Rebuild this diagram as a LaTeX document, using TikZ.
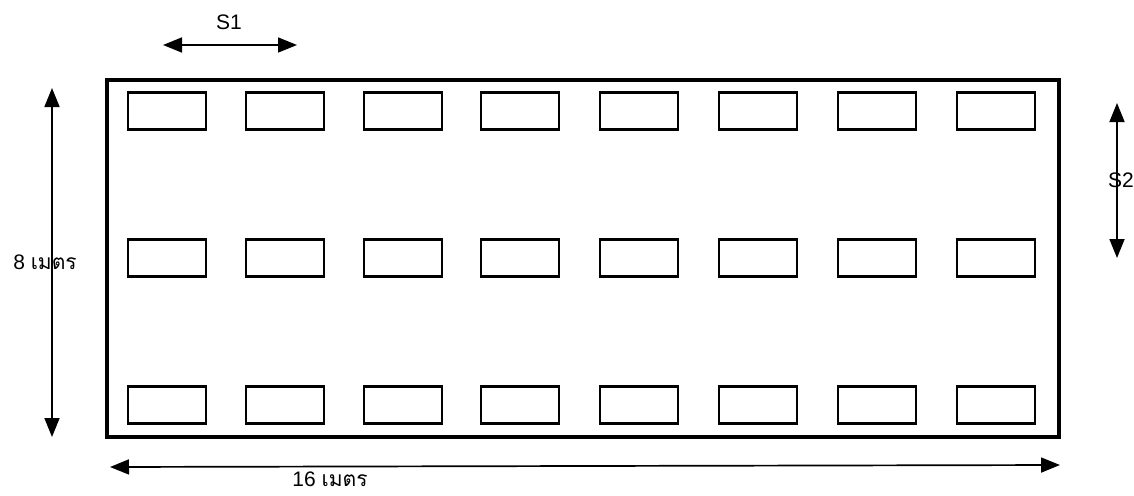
\documentclass[tikz,border=0pt]{standalone}
\usepackage{fontspec}
\setmainfont{Liberation Sans}
\newfontfamily\thaifont[Script=Thai]{Loma}
\usetikzlibrary{arrows.meta}
\begin{document}
\begin{tikzpicture}[x=1pt,y=-1pt,
  cell/.style={draw, line width=2.6pt, minimum width=78pt, minimum height=37pt, inner sep=0pt},
  dim/.style={line width=1.7pt, {Triangle[length=19pt,width=15pt]}-{Triangle[length=19pt,width=15pt]}},
  lbl/.style={font=\fontsize{21}{24}\selectfont, inner sep=0pt}]
\useasboundingbox (0,0) rectangle (1134,495);
\draw[line width=3.2pt] (107,80) rectangle (1059,437);
\foreach \c/\x in {1/167,2/285,3/403,4/520,5/639,6/758,7/877,8/996}{
  \node[cell] (t\c) at (\x,111) {};
  \node[cell] (m\c) at (\x,258) {};
  \node[cell] (b\c) at (\x,405) {};
}
% S1
\coordinate (s1a) at (163,45);
\coordinate (s1b) at (297,45);
\draw[dim] (s1a) -- (s1b);
\node[lbl] (s1) at (229,22) {S1};
% S2
\coordinate (s2a) at (1117,103);
\coordinate (s2b) at (1117,258);
\draw[dim] (s2a) -- (s2b);
\node[lbl] (s2) at (1121,180) {S2};
% 8 m
\coordinate (va) at (52,88);
\coordinate (vb) at (52,437);
\draw[dim] (va) -- (vb);
\node[lbl] (h8) at (45,262) {8 {\thaifont เมตร}};
% 16 m
\coordinate (ha) at (110,467);
\coordinate (hb) at (1060,465);
\draw[dim] (ha) -- (hb);
\node[lbl] (w16) at (330,479) {16 {\thaifont เมตร}};
\end{tikzpicture}
\end{document}
